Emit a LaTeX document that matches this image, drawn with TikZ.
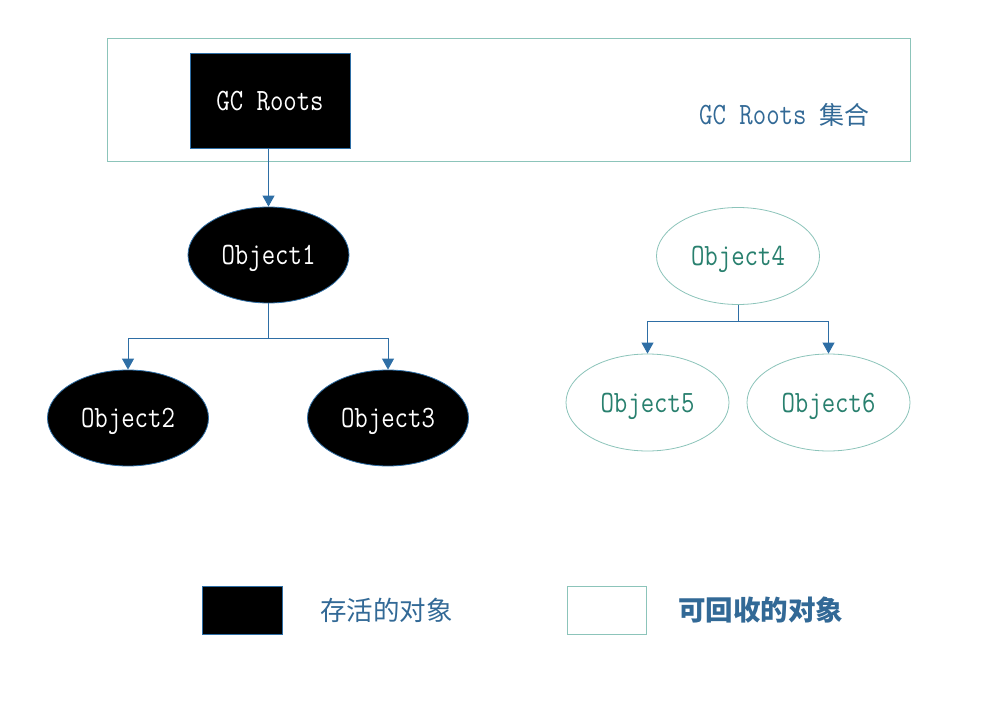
\documentclass[tikz,border=0pt]{standalone}
\usepackage{fontspec}
\usetikzlibrary{shapes.geometric,arrows.meta}
\newfontfamily\monofnt[FakeStretch=0.84]{Latin Modern Mono}
\newfontfamily\cjkfnt{Noto Sans CJK SC}
\definecolor{tealline}{RGB}{140,196,186}
\definecolor{arrowblue}{RGB}{46,110,165}
\definecolor{textblue}{RGB}{50,105,150}
\definecolor{textteal}{RGB}{40,128,110}
\tikzset{
  monotext/.style={font=\monofnt\fontsize{31}{33}\selectfont},
  live/.style={ellipse, fill=black, draw=arrowblue, line width=0.8pt, minimum width=161pt, minimum height=96pt, inner sep=0pt, text=white, monotext, text depth=0pt},
  dead/.style={ellipse, fill=white, draw=tealline, line width=0.8pt, minimum width=163pt, minimum height=97pt, inner sep=0pt, text=textteal, monotext, text depth=0pt},
  conn/.style={draw=arrowblue, line width=0.9pt, -{Triangle[length=11pt,width=12pt]}},
  lbl/.style={inner sep=0pt, anchor=west}
}
\begin{document}
\begin{tikzpicture}[x=1pt,y=-1pt]
\useasboundingbox (0,0) rectangle (1003,727);
% GC Roots collection box
\node[draw=tealline, line width=0.8pt, minimum width=803pt, minimum height=123pt, inner sep=0pt] (set) at (508.5,99.5) {};
\node[lbl, text=textblue, monotext, text depth=0pt] (setlbl) at (699,114) {GC Roots {\cjkfnt\fontsize{25}{28}\selectfont 集合}};
% GC Roots box
\node[fill=black, draw=arrowblue, line width=0.8pt, minimum width=160pt, minimum height=95pt, inner sep=0pt, text=white, monotext, text depth=0pt] (roots) at (270,100.5) {GC Roots};
% live objects
\node[live] (o1) at (268.5,255) {Object1};
\node[live] (o2) at (128,418) {Object2};
\node[live] (o3) at (388,418) {Object3};
% dead objects
\node[dead] (o4) at (738,256) {Object4};
\node[dead] (o5) at (647.5,402.5) {Object5};
\node[dead] (o6) at (828.5,402.5) {Object6};
% connectors
\draw[conn] (roots.south -| o1.north) -- (o1.north);
\coordinate (b1) at (268.5,338);
\draw[draw=arrowblue, line width=0.9pt] (o1.south) -- (b1);
\draw[conn] (b1) -| (o2.north);
\draw[conn] (b1) -| (o3.north);
\coordinate (b2) at (738,321);
\draw[draw=arrowblue, line width=0.9pt] (o4.south) -- (b2);
\draw[conn] (b2) -| (o5.north);
\draw[conn] (b2) -| (o6.north);
% legend
\node[fill=black, draw=arrowblue, line width=0.8pt, minimum width=80pt, minimum height=48pt, inner sep=0pt] (leglive) at (242,610) {};
\node[lbl, text=textblue, font=\cjkfnt\fontsize{26.5}{28}\selectfont] (leglivet) at (320,610) {存活的对象};
\node[fill=white, draw=tealline, line width=0.8pt, minimum width=79pt, minimum height=48pt, inner sep=0pt] (legdead) at (606.5,610) {};
\node[lbl, text=textblue, font=\cjkfnt\bfseries\fontsize{27.5}{29}\selectfont] (legdeadt) at (678,610) {可回收的对象};
\end{tikzpicture}
\end{document}
